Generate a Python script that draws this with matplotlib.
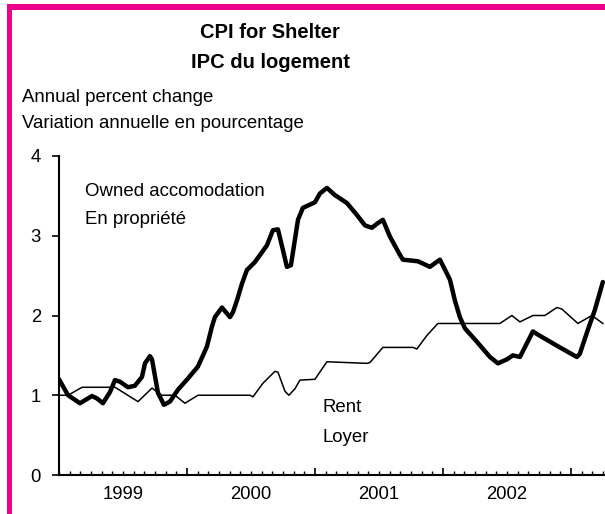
import matplotlib.pyplot as plt
from matplotlib.patches import Rectangle
from matplotlib.ticker import FixedLocator, MultipleLocator, FuncFormatter

plt.rcParams['font.family'] = ['Liberation Sans', 'DejaVu Sans']

# months since January 1999
owned_months = [0.0, 0.85, 1.97, 3.09, 3.56, 4.12, 4.78, 5.25, 5.72, 6.47, 7.12, 7.78,
                8.06, 8.53, 8.72, 9.28, 9.84, 10.40, 11.16, 12.09, 13.03, 13.87, 14.34,
                14.62, 15.28, 16.03, 16.31, 16.69, 17.16, 17.62, 18.37, 19.50, 20.06,
                20.53, 21.00, 21.37, 21.75, 22.12, 22.41, 22.87, 23.53, 24.00, 24.47,
                25.12, 25.87, 27.00, 27.94, 28.69, 29.34, 29.81, 30.37, 31.03, 31.97,
                32.25, 33.66, 34.78, 35.72, 36.66, 37.12, 37.59, 38.06, 39.19, 40.41,
                41.16, 42.00, 42.56, 43.22, 43.87, 44.44, 44.91, 46.97, 48.56, 48.84,
                49.59, 50.25, 51.00]
owned_values = [1.20, 1.00, 0.90, 0.99, 0.96, 0.90, 1.04, 1.19, 1.17, 1.10, 1.12, 1.23,
                1.40, 1.49, 1.45, 1.03, 0.88, 0.92, 1.07, 1.21, 1.36, 1.61, 1.86,
                1.98, 2.10, 1.98, 2.04, 2.19, 2.40, 2.57, 2.67, 2.88, 3.07,
                3.08, 2.82, 2.61, 2.63, 2.95, 3.20, 3.35, 3.39, 3.42, 3.53,
                3.60, 3.51, 3.41, 3.26, 3.13, 3.10, 3.15, 3.20, 2.99, 2.76,
                2.70, 2.68, 2.61, 2.70, 2.45, 2.19, 1.98, 1.84, 1.67, 1.48,
                1.40, 1.45, 1.50, 1.48, 1.65, 1.80, 1.76, 1.60, 1.48, 1.52,
                1.82, 2.07, 2.42]

rent_months = [0.0, 0.85, 2.16, 5.25, 7.41, 8.72, 9.66, 10.87, 11.81, 13.03, 17.91,
               18.19, 19.12, 20.25, 20.53, 21.19, 21.56, 22.12, 22.59, 24.00, 25.12,
               28.87, 29.16, 30.37, 33.19, 33.56, 34.50, 35.53, 41.34, 42.47, 43.22,
               44.44, 45.56, 46.69, 47.16, 48.66, 49.97, 51.00]
rent_values = [1.0, 1.0, 1.1, 1.1, 0.92, 1.09, 1.0, 1.0, 0.9, 1.0, 1.0,
               0.98, 1.15, 1.30, 1.29, 1.05, 1.0, 1.08, 1.19, 1.2, 1.42,
               1.4, 1.41, 1.6, 1.6, 1.58, 1.75, 1.9, 1.9, 2.0, 1.92,
               2.0, 2.0, 2.1, 2.08, 1.9, 2.0, 1.9]

years = [1999, 2000, 2001, 2002]

W, H = 605, 514
fig = plt.figure(figsize=(W / 100, H / 100), dpi=100)
ax = fig.add_axes([59 / W, 1 - 475 / H, 1 - 59 / W, (475 - 156) / H])

ax.plot(owned_months, owned_values, color='black', lw=3.2,
        solid_joinstyle='round', solid_capstyle='round')
ax.plot(rent_months, rent_values, color='black', lw=1.1,
        solid_joinstyle='round')

ax.set_xlim(0, 51.2)
ax.set_ylim(0, 4)
ax.set_facecolor('none')

for s in ['top', 'right']:
    ax.spines[s].set_visible(False)
for s in ['left', 'bottom']:
    ax.spines[s].set_linewidth(1.5)

ax.set_yticks([0, 1, 2, 3, 4])
ax.tick_params(axis='y', direction='out', length=5, width=1.2, pad=8, labelsize=13.3)

# tall ticks at year boundaries, short ticks monthly, year labels mid-year
ax.xaxis.set_major_locator(FixedLocator([12, 24, 36, 48]))
ax.xaxis.set_major_formatter(FuncFormatter(lambda v, p: ''))
ax.xaxis.set_minor_locator(MultipleLocator(1))
ax.xaxis.set_minor_formatter(FuncFormatter(
    lambda v, p: str(years[int(round(v)) // 12]) if int(round(v)) % 12 == 6
    and int(round(v)) // 12 < len(years) else ''))
ax.tick_params(axis='x', which='major', direction='in', length=5, width=1.2)
ax.tick_params(axis='x', which='minor', direction='in', length=3, width=1.0,
               pad=8, labelsize=13.3)

fig.text(270 / W, 1 - 32 / H, 'CPI for Shelter', ha='center', va='center',
         fontsize=14.5, fontweight='bold')
fig.text(270 / W, 1 - 63 / H, 'IPC du logement', ha='center', va='center',
         fontsize=14.5, fontweight='bold')
fig.text(22 / W, 1 - 97 / H, 'Annual percent change', ha='left', va='center', fontsize=13.4)
fig.text(22 / W, 1 - 123 / H, 'Variation annuelle en pourcentage', ha='left',
         va='center', fontsize=13.4)

fig.text(85 / W, 1 - 192 / H, 'Owned accomodation', ha='left', va='center', fontsize=13.4)
fig.text(85 / W, 1 - 220 / H, 'En propriété', ha='left', va='center', fontsize=13.4)
fig.text(323 / W, 1 - 408 / H, 'Rent', ha='left', va='center', fontsize=13.4)
fig.text(323 / W, 1 - 437 / H, 'Loyer', ha='left', va='center', fontsize=13.4)

# magenta frame (cropped on right and bottom)
pink = '#EC008C'
fig.add_artist(Rectangle((7 / W, 1 - 10 / H), 1.0, 6 / H, transform=fig.transFigure,
                         color=pink, lw=0))
fig.add_artist(Rectangle((7 / W, -0.1), 5 / W, 1.1 - 4 / H, transform=fig.transFigure,
                         color=pink, lw=0))

fig.savefig('out.png', dpi=100)
